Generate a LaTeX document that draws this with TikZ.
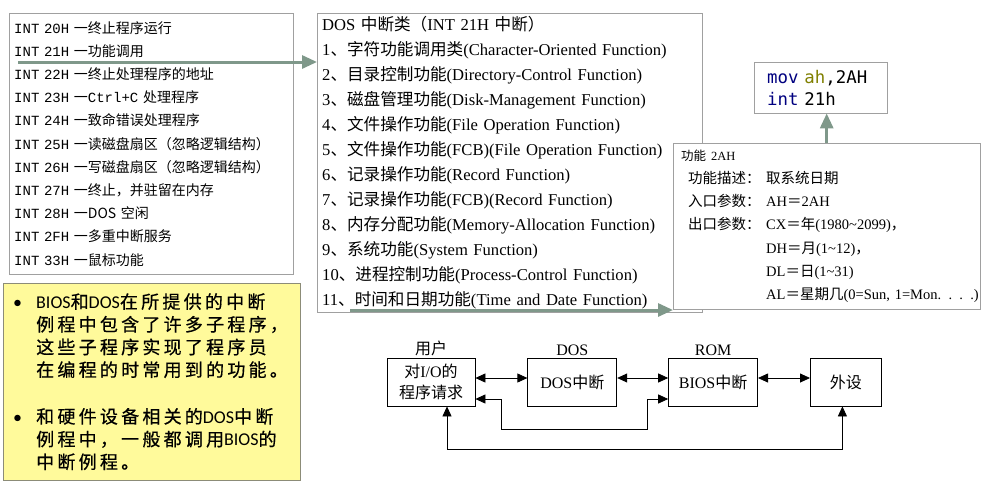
\documentclass[tikz,border=0pt]{standalone}
\usepackage{fontspec}
\setmainfont{Liberation Serif}
\setmonofont{Liberation Mono}
\newfontfamily\cjk{Noto Sans CJK SC}
\newfontfamily\cjkwide{Noto Sans CJK SC}[LetterSpace=18,FakeBold=0.5]
\newfontfamily\calib{Carlito}
\newfontfamily\codefont{DejaVu Sans Mono}
\usetikzlibrary{arrows.meta,calc,positioning}

\definecolor{boxgray}{RGB}{160,160,160}
\definecolor{arrowgreen}{RGB}{127,152,138}
\definecolor{noteyellow}{RGB}{255,250,155}
\definecolor{noteedge}{RGB}{140,140,120}
\definecolor{codeblue}{RGB}{0,0,128}
\definecolor{codeolive}{RGB}{128,128,0}

\newcommand{\zh}[1]{{\cjk #1}}
\newcommand{\zw}[1]{{\cjkwide #1}}
\newcommand{\lat}[1]{{\rmfamily #1}}

\begin{document}
\begin{tikzpicture}[x=1pt,y=-1pt,
    listbox/.style={draw=boxgray, fill=white, anchor=north west, align=left, inner xsep=5pt, inner ysep=0pt},
    fatarrow/.style={draw=arrowgreen, line width=3pt, -{Triangle[length=15pt,width=13pt,fill=arrowgreen]}},
    block/.style={draw, line width=0.8pt, minimum height=48pt, inner sep=2pt, font=\fontsize{16}{21}\selectfont, align=center},
    tag/.style={font=\fontsize{16}{18}\selectfont, inner sep=1pt},
    link/.style={line width=0.8pt, {Triangle[length=10pt,width=9pt]}-{Triangle[length=10pt,width=9pt]}}]
    \useasboundingbox (0,0) rectangle (982,490);
    % INT list
    \node[listbox, minimum width=284pt, minimum height=261pt, text width=274pt,
          font=\ttfamily\fontsize{14}{23.2}\selectfont] (intlist) at (9,13) {%
        INT 20H \zh{一终止程序运行}\\
        INT 21H \zh{一功能调用}\\
        INT 22H \zh{一终止处理程序的地址}\\
        INT 23H \zh{一}Ctrl+C \zh{处理程序}\\
        INT 24H \zh{一致命错误处理程序}\\
        INT 25H \zh{一读磁盘扇区（忽略逻辑结构）}\\
        INT 26H \zh{一写磁盘扇区（忽略逻辑结构）}\\
        INT 27H \zh{一终止，并驻留在内存}\\
        INT 28H \zh{一DOS 空闲}\\
        INT 2FH \zh{一多重中断服务}\\
        INT 33H \zh{一鼠标功能}};
    % DOS function groups
    \node[listbox, minimum width=385pt, minimum height=299pt, text width=375pt,
          font=\fontsize{16.6}{25}\selectfont] (doslist) at (317,13) {%
        DOS \zh{中断类（}INT 21H \zh{中断）}\\
        1\zh{、字符功能调用类}(Character-Oriented Function)\\
        2\zh{、目录控制功能}(Directory-Control Function)\\
        3\zh{、磁盘管理功能}(Disk-Management Function)\\
        4\zh{、文件操作功能}(File Operation Function)\\
        5\zh{、文件操作功能}(FCB)(File Operation Function)\\
        6\zh{、记录操作功能}(Record Function)\\
        7\zh{、记录操作功能}(FCB)(Record Function)\\
        8\zh{、内存分配功能}(Memory-Allocation Function)\\
        9\zh{、系统功能}(System Function)\\
        10\zh{、进程控制功能}(Process-Control Function)\\
        11\zh{、时间和日期功能}(Time and Date Function)};
    % Function 2AH
    \node[listbox, minimum width=307pt, minimum height=166pt, text width=291pt, inner xsep=8pt,
          font=\cjk\fontsize{14.5}{23.3}\selectfont] (funcbox) at (673,143) {%
        {\fontsize{12.5}{23.3}\selectfont 功能 \lat{2AH}}\\
        \hspace*{7pt}\makebox[78pt][l]{功能描述：}取系统日期\\
        \hspace*{7pt}\makebox[78pt][l]{入口参数：}\lat{AH}＝\lat{2AH}\\
        \hspace*{7pt}\makebox[78pt][l]{出口参数：}\lat{CX}＝年\lat{(1980\textasciitilde 2099)}，\\
        \hspace*{85pt}\lat{DH}＝月\lat{(1\textasciitilde 12)}，\\
        \hspace*{85pt}\lat{DL}＝日\lat{(1\textasciitilde 31)}\\
        \hspace*{85pt}\mbox{\lat{AL}＝星期几\lat{(0=Sun, 1=Mon. . . .)}}};
    % Code
    \node[listbox, minimum width=133pt, minimum height=51pt, text width=107pt, inner xsep=13pt,
          font=\codefont\fontsize{17.4}{22}\selectfont] (code) at (754,62) {%
        {\color{codeblue}mov} {\color{codeolive}ah},2AH\\
        {\color{codeblue}int} 21h};
    % Note
    \node[listbox, draw=noteedge, fill=noteyellow, minimum width=297pt, minimum height=197pt,
          text width=277pt, inner xsep=10pt, font=\fontsize{18}{22.7}\selectfont] (note) at (3,283) {%
        \makebox[23pt][l]{\calib •}{\calib BIOS}\zw{和}{\calib DOS}\zw{在所提供的中断}\\
        \hspace*{23pt}\zw{例程中包含了许多子程序，}\\
        \hspace*{23pt}\zw{这些子程序实现了程序员}\\
        \hspace*{23pt}\zw{在编程的时常用到的功能。}\\[24pt]
        \makebox[23pt][l]{\calib •}\zw{和硬件设备相关的}{\calib DOS}\zw{中断}\\
        \hspace*{23pt}\zw{例程中，一般都调用}{\calib BIOS}\zw{的}\\
        \hspace*{23pt}\zw{中断例程。}};
    % Pointers
    \coordinate (callstart) at (18,62);
    \coordinate (datestart) at (350,310);
    \draw[fatarrow] (callstart) -- (callstart -| doslist.west);
    \draw[fatarrow] (datestart) -- (datestart -| funcbox.west);
    \draw[fatarrow] ([xshift=6pt]code.south |- funcbox.north) -- ([xshift=6pt]code.south);
    % Call chain
    \node[block, minimum width=88pt] (user) at (431,382) {\zh{对}I/O\zh{的}\\\zh{程序请求}};
    \node[block, minimum width=89pt, right=52pt of user] (dosint) {DOS\zh{中断}};
    \node[block, minimum width=89pt, right=51pt of dosint] (biosint) {BIOS\zh{中断}};
    \node[block, minimum width=71pt, right=52pt of biosint] (device) {\zh{外设}};
    \node[tag, above=1pt of user] (usertag) {\zh{用户}};
    \node[tag, above=1pt of dosint] (dostag) {DOS};
    \node[tag, above=1pt of biosint] (romtag) {ROM};
    \draw[link] ([yshift=4pt]user.east) -- ([yshift=4pt]dosint.west);
    \draw[link] ([yshift=4pt]dosint.east) -- ([yshift=4pt]biosint.west);
    \draw[link] ([yshift=4pt]biosint.east) -- ([yshift=4pt]device.west);
    \draw[link] ([yshift=-17pt]user.east) -- ++(26,0) -- ++(0,30) -- ++(146,0) -- ++(0,-30)
        -- ([yshift=-17pt]biosint.west);
    \draw[link] ([xshift=16pt]user.south) -- ++(0,43) -| ([xshift=-3.5pt]device.south);
\end{tikzpicture}
\end{document}
